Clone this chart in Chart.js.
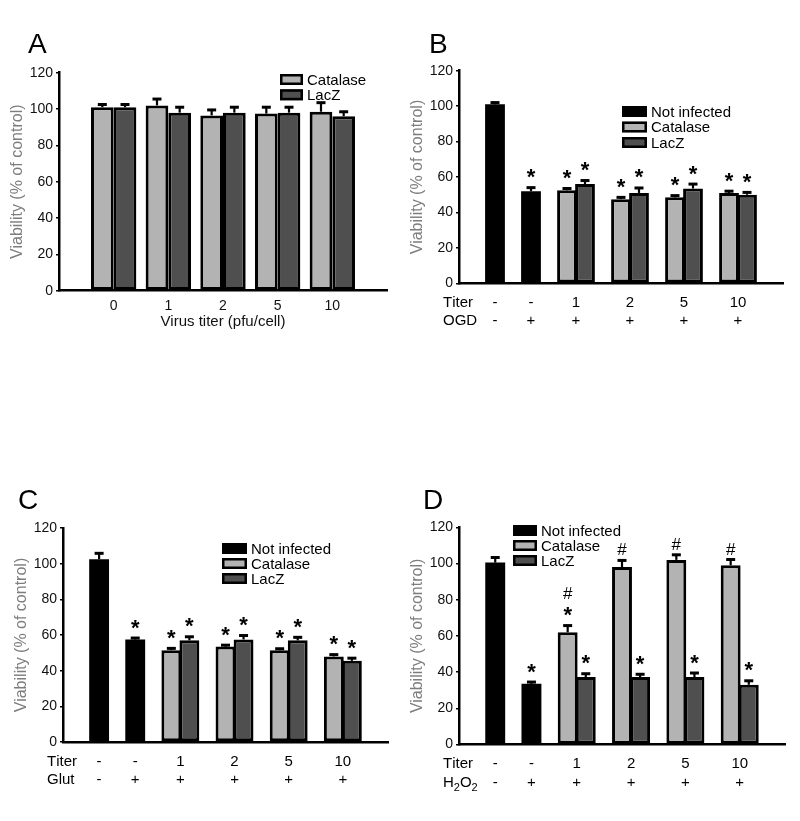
<!DOCTYPE html>
<html>
<head>
<meta charset="utf-8">
<script src="https://cdn.jsdelivr.net/npm/chart.js@4/dist/chart.umd.min.js"></script>
<style>
  body { margin: 0; background: #fff; }
  #wrap { position: relative; width: 800px; height: 821px; }
  canvas { position: absolute; }
</style>
</head>
<body>
<div id="wrap">
  <canvas id="panelA" width="400" height="410" style="left:0;top:0"></canvas>
  <canvas id="panelB" width="400" height="410" style="left:400px;top:0"></canvas>
  <canvas id="panelC" width="400" height="411" style="left:0;top:410px"></canvas>
  <canvas id="panelD" width="400" height="411" style="left:400px;top:410px"></canvas>
</div>
<script>
const FONT = '"Liberation Sans", Arial, Helvetica, sans-serif';
const NOT_INFECTED = '#000000';
const CATALASE = '#b3b3b3';
const LACZ = '#4f4f4f';

// Panel A - virus alone
const titerA = ['0', '1', '2', '5', '10'];
const catalaseA = [101, 102, 96.5, 97.5, 98.5];
const catalaseErrA = [1.5, 3.5, 3, 3.5, 5];
const lacZA = [101, 98, 98, 98, 96];
const lacZErrA = [1.5, 3, 3, 3, 2.5];

// Row labels under panels B-D
const titerRow = ['-', '-', '1', '2', '5', '10'];
const insultRow = ['-', '+', '+', '+', '+', '+'];

// Panel B - OGD
const notInfB = [101, 52];
const notInfErrB = [1, 2];
const notInfMarksB = ['', '*'];
const catalaseB = [52.5, 47.5, 48.5, 51];
const catalaseErrB = [1, 1, 1, 1];
const catalaseMarksB = ['*', '*', '*', '*'];
const lacZB = [56, 51, 53.5, 50];
const lacZErrB = [2, 2.8, 2.5, 1.3];
const lacZMarksB = ['*', '*', '*', '*'];

// Panel C - glutamate
const notInfC = [102.5, 57.5];
const notInfErrC = [3.3, 0.8];
const notInfMarksC = ['', '*'];
const catalaseC = [51.5, 53.5, 51.5, 48];
const catalaseErrC = [1, 0.8, 0.8, 1];
const catalaseMarksC = ['*', '*', '*', '*'];
const lacZC = [57, 57.5, 57, 45.5];
const lacZErrC = [2, 2.2, 1.7, 1.5];
const lacZMarksC = ['*', '*', '*', '*'];

// Panel D - H2O2 ('*#' = star with # above it)
const notInfD = [100.5, 33.5];
const notInfErrD = [2.8, 1];
const notInfMarksD = ['', '*'];
const catalaseD = [62, 98, 102, 99];
const catalaseErrD = [3.7, 3.7, 2.8, 3.2];
const catalaseMarksD = ['*#', '#', '#', '#'];
const lacZD = [37.3, 37.3, 37.3, 33];
const lacZErrD = [1.8, 1.5, 2.2, 2.2];
const lacZMarksD = ['*', '*', '*', '*'];

Chart.defaults.font.family = FONT;

const barStyle = { borderColor: '#000', borderWidth: 3, borderSkipped: false };

// error bars (upper only) plus significance marks
const errorBars = {
  id: 'errorBars',
  afterDatasetsDraw(chart) {
    const ctx = chart.ctx;
    const yScale = chart.scales.y;
    ctx.save();
    ctx.strokeStyle = '#000';
    ctx.fillStyle = '#000';
    ctx.textAlign = 'center';
    ctx.textBaseline = 'alphabetic';
    chart.data.datasets.forEach((ds, i) => {
      const meta = chart.getDatasetMeta(i);
      meta.data.forEach((bar, j) => {
        const v = ds.data[j];
        if (v == null) return;
        const top = yScale.getPixelForValue(v + (ds.errors[j] || 0));
        ctx.lineWidth = 2.2;
        ctx.beginPath();
        ctx.moveTo(bar.x, bar.y);
        ctx.lineTo(bar.x, top);
        ctx.stroke();
        ctx.lineWidth = 3;
        ctx.beginPath();
        ctx.moveTo(bar.x - 4.5, top);
        ctx.lineTo(bar.x + 4.5, top);
        ctx.stroke();
        const marks = ds.marks ? ds.marks[j] || '' : '';
        let cursor = top;
        for (const ch of marks) {
          const star = ch === '*';
          ctx.font = star ? `bold 22px ${FONT}` : `17px ${FONT}`;
          const m = ctx.measureText(ch);
          const center = cursor - (star ? 14 : 11);
          ctx.fillText(ch, bar.x, center + (m.actualBoundingBoxAscent - m.actualBoundingBoxDescent) / 2);
          cursor = center - 8;
        }
      });
    });
    ctx.restore();
  }
};

// text like H_2O_2: '_' makes the next char a subscript
function drawName(ctx, name, x, y) {
  let px = x;
  for (let i = 0; i < name.length; i++) {
    let ch = name[i];
    let sub = false;
    if (ch === '_') { sub = true; ch = name[++i]; }
    ctx.font = `${sub ? 11 : 15}px ${FONT}`;
    ctx.fillText(ch, px, sub ? y + 5 : y);
    px += ctx.measureText(ch).width;
  }
}

// panel letter, legend and the rows under the x axis
function decor(cfg) {
  return {
    id: 'decor',
    afterDraw(chart) {
      const ctx = chart.ctx;
      const area = chart.chartArea;
      ctx.save();
      ctx.fillStyle = '#000';
      ctx.textAlign = 'left';
      ctx.textBaseline = 'alphabetic';
      ctx.font = `28px ${FONT}`;
      ctx.fillText(cfg.letter, cfg.letterX, cfg.letterY);

      ctx.font = `15px ${FONT}`;
      ctx.textBaseline = 'middle';
      chart.data.datasets.forEach((ds, i) => {
        const top = cfg.legendY + i * cfg.legendPitch;
        ctx.fillStyle = ds.backgroundColor;
        ctx.fillRect(cfg.legendX, top, cfg.boxW, 11);
        ctx.strokeStyle = '#000';
        ctx.lineWidth = 2.5;
        ctx.strokeRect(cfg.legendX + 1.25, top + 1.25, cfg.boxW - 2.5, 8.5);
        ctx.fillStyle = '#000';
        ctx.fillText(ds.label, cfg.legendX + cfg.boxW + 4, top + 6.5);
      });

      if (cfg.rows) {
        const x = chart.scales.x;
        ctx.fillStyle = '#000';
        cfg.rows.forEach((row, r) => {
          const yy = area.bottom + 19.5 + r * 18.5;
          ctx.textAlign = 'left';
          drawName(ctx, row.name, area.left - 16, yy);
          ctx.font = `15px ${FONT}`;
          ctx.textAlign = 'center';
          row.values.forEach((t, k) => {
            const c = cfg.centers[k];
            const px = (x.getPixelForValue(Math.floor(c)) + x.getPixelForValue(Math.ceil(c))) / 2;
            ctx.fillText(t, px, yy);
          });
        });
      }
      ctx.restore();
    }
  };
}

function baseOptions(p) {
  return {
    responsive: false,
    animation: false,
    layout: { padding: { left: 0, top: p.top, right: p.width - p.right, bottom: p.height - p.bottom - p.xHeight } },
    plugins: { legend: { display: false }, tooltip: { enabled: false } },
    scales: {
      y: {
        min: 0,
        max: 120,
        afterFit: s => { s.width = p.left; },
        ticks: { stepSize: 20, color: '#111', padding: 3, font: { size: 14 } },
        grid: { display: true, drawOnChartArea: false, drawTicks: true, tickLength: 3, color: '#000', lineWidth: 1.5 },
        border: { display: true, color: '#000', width: 2.5 },
        title: {
          display: true,
          text: 'Viability (% of control)',
          color: '#7d7d7d',
          font: { size: 16 },
          padding: { top: p.titleX - 9.6, bottom: 0 }
        }
      }
    }
  };
}

// Panel A: plain grouped bars
(function () {
  const p = { width: 400, height: 410, left: 59, right: 387, top: 72.7, bottom: 290.7, xHeight: 40, titleX: 18 };
  const options = baseOptions(p);
  options.scales.x = {
    type: 'category',
    offset: false,
    afterFit: s => { s.height = p.xHeight; },
    ticks: { autoSkip: false, maxRotation: 0, color: '#111', padding: 7.5, font: { size: 14 } },
    grid: { display: false, drawTicks: false },
    border: { display: true, color: '#000', width: 2.5 },
    title: { display: true, text: 'Virus titer (pfu/cell)', color: '#111', font: { size: 15 }, padding: { top: 0, bottom: 0 } }
  };
  const pad = arr => [null, ...arr, null];
  new Chart(document.getElementById('panelA'), {
    type: 'bar',
    data: {
      labels: ['', ...titerA, ''],
      datasets: [
        { label: 'Catalase', data: pad(catalaseA), errors: pad(catalaseErrA), backgroundColor: CATALASE, categoryPercentage: 0.83, barPercentage: 1, ...barStyle },
        { label: 'LacZ', data: pad(lacZA), errors: pad(lacZErrA), backgroundColor: LACZ, categoryPercentage: 0.83, barPercentage: 1, ...barStyle }
      ]
    },
    options,
    plugins: [errorBars, decor({ letter: 'A', letterX: 28, letterY: 53, legendX: 280, legendY: 74, legendPitch: 15.3, boxW: 23 })]
  });
})();

// B, C and D: every bar has its own slot on the x axis,
// two empty slots at each end and one empty slot between groups
function buildSlots(singles, pairs) {
  const single = [], left = [], right = [], centers = [];
  let s = 2;
  for (let i = 0; i < singles; i++) { single.push(s); centers.push(s); s += 2; }
  for (let i = 0; i < pairs; i++) { left.push(s); right.push(s + 1); centers.push(s + 0.5); s += 3; }
  return { single, left, right, centers, count: s + 1 };
}

function insultChart(id, p, series, insultName, legend) {
  const slots = buildSlots(series.notInf.length, series.catalase.length);
  const place = (vals, idx) => {
    const out = new Array(slots.count).fill(null);
    idx.forEach((s, i) => { out[s] = vals[i]; });
    return out;
  };
  const options = baseOptions(p);
  options.scales.x = {
    type: 'category',
    offset: false,
    afterFit: s => { s.height = p.xHeight; },
    ticks: { display: false },
    grid: { display: false, drawTicks: false },
    border: { display: true, color: '#000', width: 2.5 }
  };
  const common = { grouped: false, categoryPercentage: 1, barPercentage: 1.1, ...barStyle };
  new Chart(document.getElementById(id), {
    type: 'bar',
    data: {
      labels: new Array(slots.count).fill(''),
      datasets: [
        // solid black bars: no inner border, avoids a light seam
        { label: 'Not infected', data: place(series.notInf, slots.single), errors: place(series.notInfErr, slots.single), marks: place(series.notInfMarks, slots.single), backgroundColor: NOT_INFECTED, ...common, borderWidth: 0 },
        { label: 'Catalase', data: place(series.catalase, slots.left), errors: place(series.catalaseErr, slots.left), marks: place(series.catalaseMarks, slots.left), backgroundColor: CATALASE, ...common },
        { label: 'LacZ', data: place(series.lacZ, slots.right), errors: place(series.lacZErr, slots.right), marks: place(series.lacZMarks, slots.right), backgroundColor: LACZ, ...common }
      ]
    },
    options,
    plugins: [errorBars, decor({
      ...legend,
      centers: slots.centers,
      rows: [{ name: 'Titer', values: titerRow }, { name: insultName, values: insultRow }]
    })]
  });
}

insultChart('panelB',
  { width: 400, height: 410, left: 59, right: 383, top: 70.7, bottom: 283.3, xHeight: 10, titleX: 18 },
  { notInf: notInfB, notInfErr: notInfErrB, notInfMarks: notInfMarksB,
    catalase: catalaseB, catalaseErr: catalaseErrB, catalaseMarks: catalaseMarksB,
    lacZ: lacZB, lacZErr: lacZErrB, lacZMarks: lacZMarksB },
  'OGD',
  { letter: 'B', letterX: 29, letterY: 53, legendX: 222, legendY: 106, legendPitch: 15.5, boxW: 25 });

insultChart('panelC',
  { width: 400, height: 411, left: 63, right: 388, top: 118, bottom: 332, xHeight: 10, titleX: 21.7 },
  { notInf: notInfC, notInfErr: notInfErrC, notInfMarks: notInfMarksC,
    catalase: catalaseC, catalaseErr: catalaseErrC, catalaseMarks: catalaseMarksC,
    lacZ: lacZC, lacZErr: lacZErrC, lacZMarks: lacZMarksC },
  'Glut',
  { letter: 'C', letterX: 18, letterY: 99, legendX: 222, legendY: 133, legendPitch: 15, boxW: 25 });

insultChart('panelD',
  { width: 400, height: 411, left: 59, right: 385, top: 117.3, bottom: 334.5, xHeight: 10, titleX: 18 },
  { notInf: notInfD, notInfErr: notInfErrD, notInfMarks: notInfMarksD,
    catalase: catalaseD, catalaseErr: catalaseErrD, catalaseMarks: catalaseMarksD,
    lacZ: lacZD, lacZErr: lacZErrD, lacZMarks: lacZMarksD },
  'H_2O_2',
  { letter: 'D', letterX: 23, letterY: 99, legendX: 113, legendY: 115, legendPitch: 15, boxW: 24 });
</script>
</body>
</html>
